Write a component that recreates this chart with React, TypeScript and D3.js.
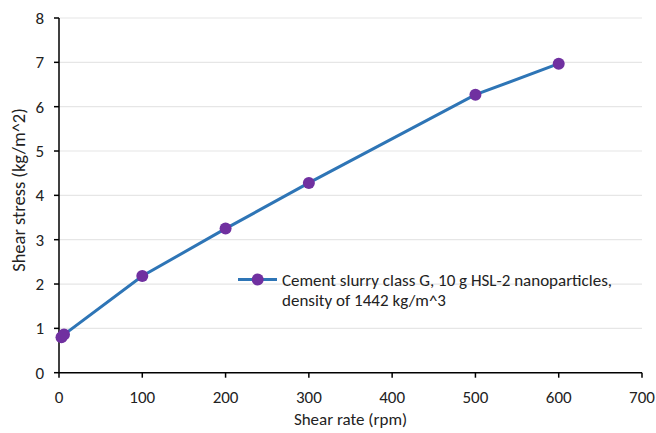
import React from "react";
import * as d3 from "d3";

const shearRate = [3, 6, 100, 200, 300, 500, 600];
const shearStress = [0.8, 0.86, 2.18, 3.25, 4.28, 6.27, 6.97];
const xTicks = [0, 100, 200, 300, 400, 500, 600, 700];
const yTicks = [0, 1, 2, 3, 4, 5, 6, 7, 8];
const seriesName = ["Cement slurry class G, 10 g HSL-2 nanoparticles,", "density of 1442 kg/m^3"];
const xTitle = "Shear rate (rpm)";
const yTitle = "Shear stress (kg/m^2)";

const W = 656, H = 433;
const FONT = "Carlito, Lato, 'Open Sans', sans-serif";
const FS = 17;

export default function App() {
  const x = d3.scaleLinear().domain([0, 700]).range([59, 642]);
  const y = d3.scaleLinear().domain([0, 8]).range([372.7, 18]);
  const pts = shearRate.map((r, i) => [x(r), y(shearStress[i])] as [number, number]);
  const line = d3.line()(pts) as string;
  const lineColor = "#2E75B6";
  const markerColor = "#7030A0";
  return (
    <svg width={W} height={H} style={{ position: "absolute", left: 0, top: 0 }} fontFamily={FONT}>
      <rect x={0} y={0} width={W} height={H} fill="#fff" />
      {yTicks.slice(1).map((t) => (
        <line key={t} x1={x(0)} x2={x(700)} y1={y(t)} y2={y(t)} stroke="#E6E6E6" strokeWidth={1.2} />
      ))}
      <line x1={x(0)} x2={x(0)} y1={y(0)} y2={y(8)} stroke="#000" strokeWidth={1.5} />
      <line x1={x(0)} x2={x(700)} y1={y(0)} y2={y(0)} stroke="#000" strokeWidth={1.5} />
      {yTicks.map((t) => (
        <g key={t}>
          <line x1={x(0) - 5} x2={x(0)} y1={y(t)} y2={y(t)} stroke="#000" strokeWidth={1.5} />
          <text x={44} y={y(t)} dy="0.35em" textAnchor="end" fontSize={FS} fill="#222">{t}</text>
        </g>
      ))}
      {xTicks.map((t) => (
        <g key={t}>
          <line x1={x(t)} x2={x(t)} y1={y(0)} y2={y(0) + 5} stroke="#000" strokeWidth={1.5} />
          <text x={x(t)} y={403} textAnchor="middle" fontSize={FS} fill="#222">{t}</text>
        </g>
      ))}
      <text x={x(350)} y={425} textAnchor="middle" fontSize={FS} fill="#222">{xTitle}</text>
      <text transform={`translate(25,190) rotate(-90)`} textAnchor="middle" fontSize={18.5} fill="#222">{yTitle}</text>
      <path d={line} fill="none" stroke={lineColor} strokeWidth={3} />
      {pts.map((p, i) => (
        <circle key={i} cx={p[0]} cy={p[1]} r={6} fill={markerColor} />
      ))}
      <line x1={238} x2={277} y1={279.5} y2={279.5} stroke={lineColor} strokeWidth={3} />
      <circle cx={257.7} cy={279.5} r={6} fill={markerColor} />
      <text x={282} y={285.5} fontSize={FS} fill="#222">{seriesName[0]}</text>
      <text x={282} y={306} fontSize={FS} fill="#222">{seriesName[1]}</text>
    </svg>
  );
}
